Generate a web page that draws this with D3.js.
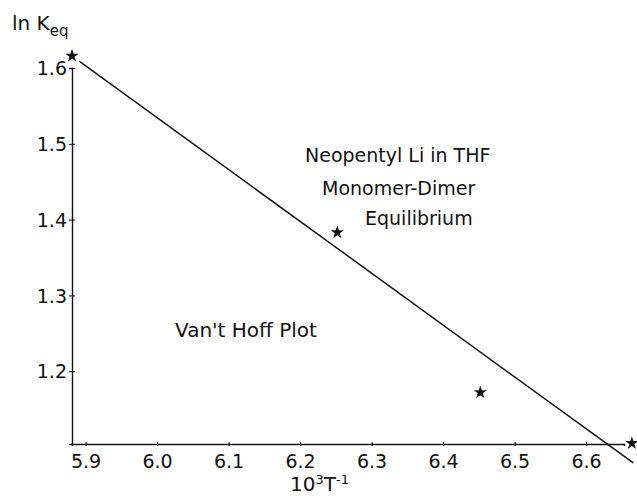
<!DOCTYPE html>
<html>
<head>
<meta charset="utf-8">
<script src="https://cdn.jsdelivr.net/npm/d3@7"></script>
<style>
  body { margin: 0; background: #fff; }
  text { font-family: "DejaVu Sans", sans-serif; fill: #111; }
</style>
</head>
<body>
<script>
// measured points (10^3/T, ln Keq)
var invT = [5.881, 6.252, 6.452, 6.664]
var lnK = [1.616, 1.383, 1.172, 1.105]

// fitted van't Hoff line, end points
var fitX = [5.891, 6.666]
var fitY = [1.609, 1.079]

var xTicks = [5.9, 6.0, 6.1, 6.2, 6.3, 6.4, 6.5, 6.6]
var yTicks = [1.2, 1.3, 1.4, 1.5, 1.6]

var notes = ['Neopentyl Li in THF', 'Monomer-Dimer', 'Equilibrium']

var width = 637, height = 496

var svg = d3.select('body').append('svg')
  .attr('width', width).attr('height', height)

var x = d3.scaleLinear().domain([5.881, 6.653]).range([72, 624])
var y = d3.scaleLinear().domain([1.104, 1.6]).range([444, 68])

// axes
var xAxis = svg.append('g')
  .attr('transform', 'translate(0,' + y(1.104) + ')')
  .call(d3.axisBottom(x).tickValues(xTicks).tickSizeOuter(0).tickSize(2).tickFormat(d3.format('.1f')))
var yAxis = svg.append('g')
  .attr('transform', 'translate(' + x(5.881) + ',0)')
  .call(d3.axisLeft(y).tickValues(yTicks).tickSizeOuter(0).tickSize(3).tickFormat(d3.format('.1f')))

;[xAxis, yAxis].forEach(function(g){
  g.select('.domain').attr('stroke', '#111').attr('stroke-width', 1.4)
  g.selectAll('.tick line').attr('stroke', '#111').attr('stroke-width', 1)
  g.selectAll('.tick text').style('font-size', '19px').attr('fill', '#111')
})
xAxis.selectAll('.tick line').attr('y1', -2).attr('y2', 2)
xAxis.selectAll('.tick text').attr('y', 24).attr('dy', 0)
yAxis.selectAll('.tick line').attr('x1', -3).attr('x2', 3)
yAxis.selectAll('.tick text').attr('x', -5).attr('dy', '0.35em')

// fitted line
var line = d3.line().x(function(d){ return x(d[0]) }).y(function(d){ return y(d[1]) })
svg.append('path')
  .attr('d', line(d3.zip(fitX, fitY)))
  .attr('fill', 'none').attr('stroke', '#111').attr('stroke-width', 1.5)

// star markers
svg.selectAll('path.pt').data(d3.zip(invT, lnK)).enter().append('path')
  .attr('class', 'pt')
  .attr('d', d3.symbol(d3.symbolStar).size(55))
  .attr('transform', function(d){ return 'translate(' + x(d[0]) + ',' + y(d[1]) + ')' })
  .attr('fill', '#111')

// y label
var yl = svg.append('text').attr('x', 12).attr('y', 30).style('font-size', '20px')
yl.append('tspan').text('ln K')
yl.append('tspan').attr('dy', 6).style('font-size', '15px').text('eq')

// x label
var xl = svg.append('text').attr('x', 290).attr('y', 491).style('font-size', '20px')
xl.append('tspan').text('10')
xl.append('tspan').attr('dy', -7).style('font-size', '13px').text('3')
xl.append('tspan').attr('dy', 7).text('T')
xl.append('tspan').attr('dy', -7).style('font-size', '13px').text('-1')

// annotations
var noteX = [305, 322, 365], noteY = [162, 195, 225]
svg.selectAll('text.note').data(notes).enter().append('text')
  .attr('class', 'note')
  .attr('x', function(d, i){ return noteX[i] })
  .attr('y', function(d, i){ return noteY[i] })
  .style('font-size', '19px')
  .text(function(d){ return d })

svg.append('text').attr('x', 175).attr('y', 337).style('font-size', '20px').text("Van't Hoff Plot")
</script>
</body>
</html>
